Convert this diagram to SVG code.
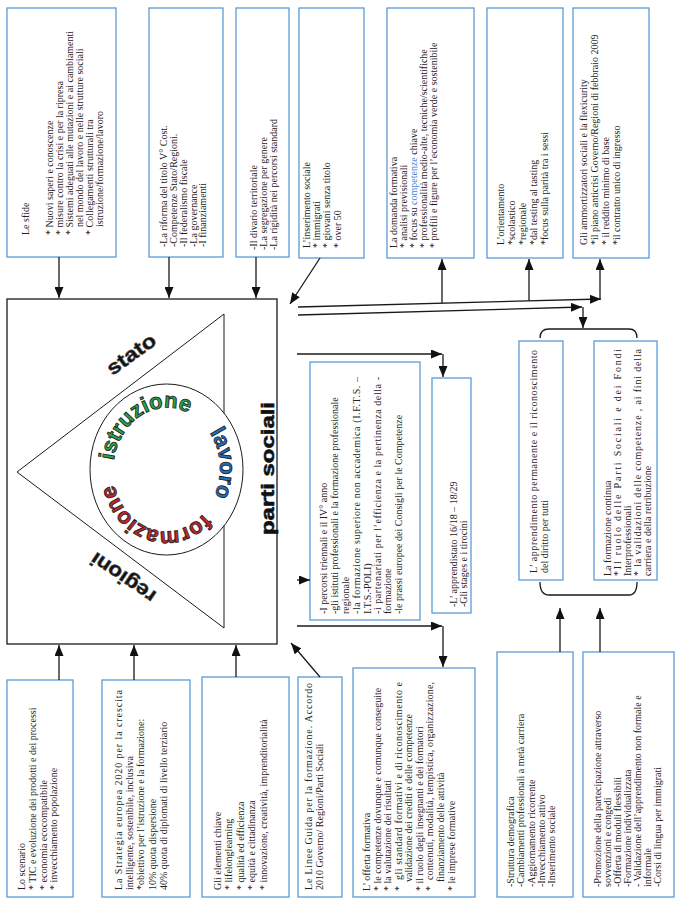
<svg xmlns="http://www.w3.org/2000/svg" width="679" height="906" viewBox="0 0 679 906">
  <defs>
    <style>
      .box { fill: #ffffff; stroke: #5b9bd5; stroke-width: 1.3; }
      .t { font-family: "Liberation Serif", "Times New Roman", serif; font-size: 10px; fill: #222222; }
      .hl { fill: #3b82d6; }
      .ln { stroke: #1a1a1a; stroke-width: 1.3; fill: none; }
      .arr { stroke: #1a1a1a; stroke-width: 1.3; fill: none; marker-end: url(#ah); }
      .big { font-family: "Liberation Sans", Arial, sans-serif; font-weight: bold; }
      .ring { font-family: "Liberation Sans", Arial, sans-serif; font-weight: bold; font-size: 22px; stroke: #1a1a1a; stroke-width: 0.8; }
    </style>
    <marker id="ah" viewBox="0 0 11 9" refX="11" refY="4.5" markerWidth="11" markerHeight="9" markerUnits="userSpaceOnUse" orient="auto">
      <path d="M0,0 L11,4.5 L0,9 z" fill="#111111"/>
    </marker>
    <!-- baseline ellipse for the three words around the centre circle (landscape coordinates) -->
    <path id="ring" d="M401.5,209.9 A61,53 0 1,1 471.5,123.1 A61,53 0 1,1 401.5,209.9"/>
  </defs>

  <rect width="679" height="906" fill="#ffffff"/>

  <!-- central figure: frame, triangle and circle -->
  <g id="core">
    <rect x="7" y="299" width="270" height="345" fill="#ffffff" stroke="#1a1a1a" stroke-width="1.3"/>
    <g transform="translate(0,906) rotate(-90)">
      <polygon points="434,17 592,224 278,224" fill="#ffffff" stroke="#1a1a1a" stroke-width="1"/>
      <ellipse cx="436.5" cy="166.5" rx="85.5" ry="76.5" fill="#ffffff" stroke="#1a1a1a" stroke-width="1"/>
      <text class="ring" fill="#c1272d" text-anchor="middle"><textPath href="#ring" startOffset="70">formazione</textPath></text>
      <text class="ring" fill="#27a349" text-anchor="middle"><textPath href="#ring" startOffset="205">istruzione</textPath></text>
      <text class="ring" fill="#1f6fc0" text-anchor="middle"><textPath href="#ring" startOffset="319">lavoro</textPath></text>
      <text class="big" x="552" y="131" font-size="20" fill="#111" stroke="#444" stroke-width="0.6" text-anchor="middle" dominant-baseline="central" textLength="56" lengthAdjust="spacingAndGlyphs" transform="rotate(54 552 131)">stato</text>
      <text class="big" x="328" y="123" font-size="20" fill="#111" stroke="#444" stroke-width="0.6" text-anchor="middle" dominant-baseline="central" textLength="74" lengthAdjust="spacingAndGlyphs" transform="rotate(-56 328 123)">regioni</text>
      <text class="big" x="437.5" y="273.5" font-size="19" fill="#111" stroke="#111" stroke-width="0.6" text-anchor="middle" textLength="133" lengthAdjust="spacingAndGlyphs">parti sociali</text>
    </g>
  </g>

  <!-- upper row -->
  <g id="sfide" transform="translate(7,257) rotate(-90)">
    <rect class="box" x="0" y="0" width="249" height="109"/>
    <text class="t" x="22" y="21.5">Le sfide</text>
    <text class="t" x="22" y="45.5">* Nuovi saperi e conoscenze</text>
    <text class="t" x="22" y="55.5">* misure contro la crisi e per la ripresa</text>
    <text class="t" x="22" y="65.5">* Sistemi adeguati alle mutazioni e ai cambiamenti</text>
    <text class="t" x="30" y="75.5">nel  mondo del lavoro e nelle strutture sociali</text>
    <text class="t" x="22" y="85.5">* Collegamenti strutturali tra</text>
    <text class="t" x="30" y="95.5">istruzione/formazione/lavoro</text>
  </g>

  <g id="riforma" transform="translate(149,257) rotate(-90)">
    <rect class="box" x="0" y="0" width="249" height="74"/>
    <text class="t" x="10" y="17.5">-La riforma del titolo V° Cost.</text>
    <text class="t" x="10" y="27.5">-Competenze Stato/Regioni.</text>
    <text class="t" x="10" y="37.5">-Il federalismo fiscale</text>
    <text class="t" x="10" y="47.5">-La governance</text>
    <text class="t" x="10" y="56.5">-I finanziamenti</text>
  </g>

  <g id="divario" transform="translate(236,257) rotate(-90)">
    <rect class="box" x="0" y="0" width="249" height="53"/>
    <text class="t" x="7" y="20.5">-Il divario territoriale</text>
    <text class="t" x="7" y="30.5">-La segregazione per genere</text>
    <text class="t" x="7" y="40.5">-La rigidità nei percorsi standard</text>
  </g>

  <g id="inserimento" transform="translate(299,258) rotate(-90)">
    <rect class="box" x="0" y="0" width="250" height="65"/>
    <text class="t" x="10" y="10.5">L’inserimento sociale</text>
    <text class="t" x="10" y="20.5">* immigrati</text>
    <text class="t" x="10" y="30.5">* giovani senza titolo</text>
    <text class="t" x="10" y="41.5">* over 50</text>
  </g>

  <g id="domanda" transform="translate(387,258) rotate(-90)">
    <rect class="box" x="0" y="0" width="250" height="87"/>
    <text class="t" x="10" y="9.5">La domanda formativa</text>
    <text class="t" x="10" y="19.5">* analisi previsionali</text>
    <text class="t" x="10" y="29.5">* focus su <tspan class="hl">competenze</tspan> chiave</text>
    <text class="t" x="10" y="39.5">* professionalità medio-alte, tecniche/scientifiche</text>
    <text class="t" x="10" y="49.5">* profili e figure per l’economia verde e sostenibile</text>
  </g>

  <g id="orientamento" transform="translate(487,258) rotate(-90)">
    <rect class="box" x="0" y="0" width="250" height="76"/>
    <text class="t" x="13" y="16.5">L’orientamento</text>
    <text class="t" x="13" y="27.5">*scolastico</text>
    <text class="t" x="13" y="38.5">*regionale</text>
    <text class="t" x="13" y="49.5">*dal testing al tasting</text>
    <text class="t" x="13" y="60.5">*focus sulla parità tra i sessi</text>
  </g>

  <g id="ammortizzatori" transform="translate(573,258) rotate(-90)">
    <rect class="box" x="0" y="0" width="250" height="76"/>
    <text class="t" x="13" y="13.5">Gli ammortizzatori sociali e la flexicurity</text>
    <text class="t" x="13" y="24.5">*il piano anticrisi Governo/Regioni di febbraio 2009</text>
    <text class="t" x="13" y="35.5">* il reddito minimo di base</text>
    <text class="t" x="13" y="46.5">*il contratto unico di ingresso</text>
  </g>

  <!-- middle column -->
  <g id="percorsi" transform="translate(310,620) rotate(-90)">
    <rect class="box" x="0" y="0" width="258" height="110"/>
    <text class="t" x="6" y="16.5">-I percorsi triennali e il IV° anno</text>
    <text class="t" x="6" y="27.5">-gli istituti professionali e la formazione professionale</text>
    <text class="t" x="6" y="38.5">regionale</text>
    <text class="t" x="6" y="49.5" textLength="237" lengthAdjust="spacing">-la formazione superiore non accademica (I.F.T.S. –</text>
    <text class="t" x="6" y="60.5">I.T.S.-POLI)</text>
    <text class="t" x="6" y="70.5" textLength="237" lengthAdjust="spacing">-i partenariati per l’efficienza e la pertinenza della -</text>
    <text class="t" x="6" y="80.5">formazione</text>
    <text class="t" x="6" y="91.5">-le prassi europee dei Consigli per le Competenze</text>
  </g>

  <g id="apprendistato" transform="translate(432,613) rotate(-90)">
    <rect class="box" x="0" y="0" width="235" height="39"/>
    <text class="t" x="6" y="24.5">-L’ apprendistato 16/18 – 18/29</text>
    <text class="t" x="6" y="34.5">-Gli stages e i tirocini</text>
  </g>

  <g id="apprendimento" transform="translate(519,580) rotate(-90)">
    <rect class="box" x="0" y="0" width="239" height="44"/>
    <text class="t" x="7" y="17.5" textLength="223" lengthAdjust="spacing">L’ apprendimento permanente e il riconoscimento</text>
    <text class="t" x="7" y="28.5">del diritto per tutti</text>
  </g>

  <g id="continua" transform="translate(594,580) rotate(-90)">
    <rect class="box" x="0" y="0" width="239" height="63"/>
    <text class="t" x="4" y="16.5">La formazione continua</text>
    <text class="t" x="4" y="26.5" textLength="227" lengthAdjust="spacing">*Il ruolo delle Parti Sociali e dei Fondi</text>
    <text class="t" x="4" y="36.5">Interprofessionali</text>
    <text class="t" x="4" y="46.5" textLength="227" lengthAdjust="spacing">* la validazioni delle competenze , ai fini della</text>
    <text class="t" x="4" y="56.5">carriera e della retribuzione</text>
  </g>

  <!-- lower row -->
  <g id="scenario" transform="translate(7,897) rotate(-90)">
    <rect class="box" x="0" y="0" width="217" height="66"/>
    <text class="t" x="7" y="17.5">Lo scenario</text>
    <text class="t" x="7" y="28.5">* TIC e evoluzione dei prodotti e dei processi</text>
    <text class="t" x="7" y="39.5">* economia ecocompatibile</text>
    <text class="t" x="7" y="49.5">* invecchiamento popolazione</text>
  </g>

  <g id="strategia" transform="translate(102,897) rotate(-90)">
    <rect class="box" x="0" y="0" width="217" height="88"/>
    <text class="t" x="7" y="19.5" textLength="200" lengthAdjust="spacing">La Strategia europea 2020 per la crescita</text>
    <text class="t" x="7" y="30.5">intelligente, sostenibile, inclusiva</text>
    <text class="t" x="7" y="41.5">*obiettivo per l’istruzione e la formazione:</text>
    <text class="t" x="7" y="53.5">10% quota dispersione</text>
    <text class="t" x="7" y="64.5">40% quota di diplomati di livello terziario</text>
  </g>

  <g id="elementi" transform="translate(202,897) rotate(-90)">
    <rect class="box" x="0" y="0" width="220" height="87"/>
    <text class="t" x="7" y="18.5">Gli elementi chiave</text>
    <text class="t" x="7" y="30">* lifelonglearning</text>
    <text class="t" x="7" y="41.5">* qualità ed efficienza</text>
    <text class="t" x="7" y="53">* equità e cittadinanza</text>
    <text class="t" x="7" y="64.5">* innovazione, creatività, imprenditorialità</text>
  </g>

  <g id="linee" transform="translate(298,897) rotate(-90)">
    <rect class="box" x="0" y="0" width="220" height="44"/>
    <text class="t" x="7" y="13.5" textLength="207" lengthAdjust="spacing">Le Linee Guida per la formazione. Accordo</text>
    <text class="t" x="7" y="24.5">2010 Governo/ Regioni/Parti Sociali</text>
  </g>

  <g id="offerta" transform="translate(353,897) rotate(-90)">
    <rect class="box" x="0" y="0" width="229" height="122"/>
    <text class="t" x="6" y="16.5">L’ offerta formativa</text>
    <text class="t" x="6" y="27.5">* le competenze dovunque e comunque conseguite</text>
    <text class="t" x="6" y="37.5">* la valutazione dei risultati</text>
    <text class="t" x="6" y="48.5">*</text>
    <text class="t" x="17" y="48.5" textLength="198" lengthAdjust="spacing">gli standard formativi e di riconoscimento e</text>
    <text class="t" x="15" y="58.5">validazione dei crediti e delle competenze</text>
    <text class="t" x="6" y="69.5">* il ruolo degli insegnanti e dei formatori</text>
    <text class="t" x="6" y="79.5">*</text>
    <text class="t" x="17" y="79.5" textLength="198" lengthAdjust="spacing">contenuti, modalità, tempistica, organizzazione,</text>
    <text class="t" x="15" y="90.5">finanziamento delle attività</text>
    <text class="t" x="6" y="101.5">* le imprese formative</text>
  </g>

  <g id="struttura" transform="translate(497,897) rotate(-90)">
    <rect class="box" x="0" y="0" width="245" height="76"/>
    <text class="t" x="10" y="16.5">-Struttura demografica</text>
    <text class="t" x="10" y="26.5">-Cambiamenti professionali a metà carriera</text>
    <text class="t" x="10" y="37.5">-Aggiornamento ricorrente</text>
    <text class="t" x="10" y="47.5">-Invecchiamento attivo</text>
    <text class="t" x="10" y="57.5">-Inserimento sociale</text>
  </g>

  <g id="promozione" transform="translate(583,897) rotate(-90)">
    <rect class="box" x="0" y="0" width="245" height="91"/>
    <text class="t" x="10" y="17.5">-Promozione della partecipazione attraverso</text>
    <text class="t" x="10" y="27.5">sovvenzioni e congedi</text>
    <text class="t" x="10" y="37.5">-Offerta di moduli flessibili</text>
    <text class="t" x="10" y="47.5">-Formazione individualizzata</text>
    <text class="t" x="10" y="57.5">- Validazione dell’apprendimento non formale e</text>
    <text class="t" x="10" y="67.5">informale</text>
    <text class="t" x="10" y="77.5">-Corsi di lingua per immigrati</text>
  </g>

  <!-- connectors -->
  <g id="connectors">
    <line class="arr" x1="59" y1="257" x2="59" y2="298"/>
    <line class="arr" x1="169" y1="257" x2="169" y2="298"/>
    <line class="arr" x1="256" y1="257" x2="256" y2="298"/>
    <line class="arr" x1="320" y1="258" x2="290" y2="304"/>

    <line class="arr" x1="298" y1="307" x2="601" y2="299"/>
    <line class="arr" x1="600" y1="299" x2="600" y2="259"/>
    <line class="arr" x1="442" y1="303" x2="442" y2="259"/>
    <line class="arr" x1="529" y1="301" x2="529" y2="259"/>
    <line class="arr" x1="298" y1="315" x2="582" y2="307"/>
    <line class="arr" x1="583" y1="307" x2="583" y2="328"/>

    <line class="arr" x1="297" y1="354" x2="442" y2="354"/>
    <line class="arr" x1="443" y1="354" x2="443" y2="377"/>
    <line class="arr" x1="297" y1="580" x2="310" y2="580"/>
    <line class="arr" x1="297" y1="626" x2="442" y2="626"/>
    <line class="arr" x1="443" y1="626" x2="443" y2="667"/>

    <line class="arr" x1="59" y1="680" x2="59" y2="645"/>
    <line class="arr" x1="134" y1="680" x2="134" y2="645"/>
    <line class="arr" x1="236" y1="677" x2="236" y2="645"/>
    <line class="arr" x1="320" y1="677" x2="291" y2="643"/>

    <line class="arr" x1="560" y1="652" x2="560" y2="608"/>
    <line class="arr" x1="600" y1="652" x2="600" y2="608"/>

    <path class="ln" d="M540,338 Q540,329 549,329 L629,329 Q637,329 637,338"/>
    <path class="ln" d="M540,582 Q540,595 549,595 L629,595 Q637,595 637,582"/>
  </g>
</svg>
